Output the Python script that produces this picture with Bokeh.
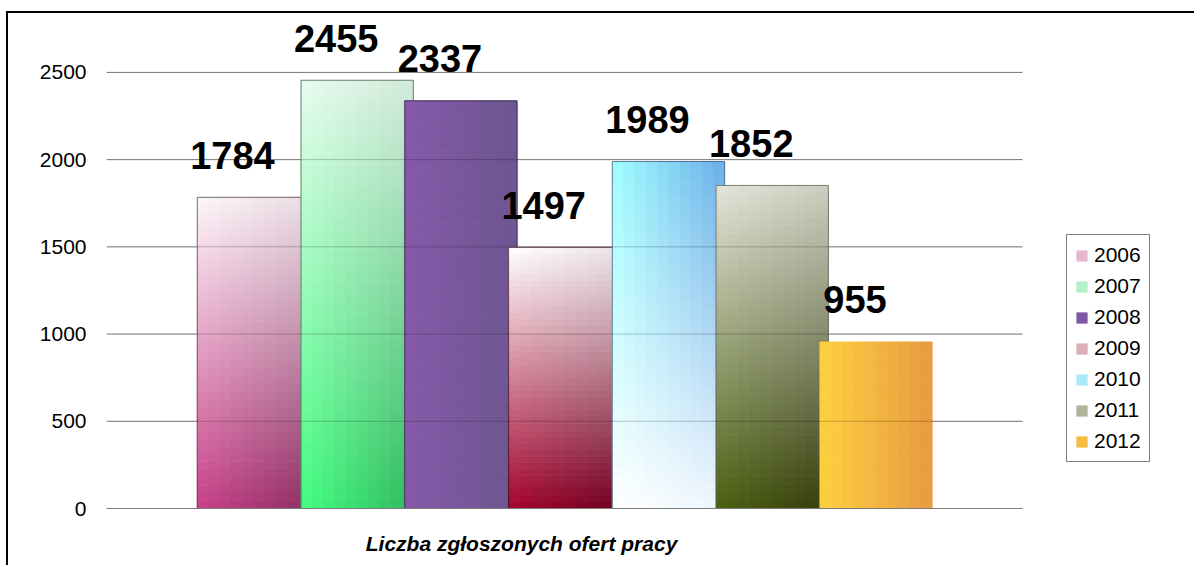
from bokeh.plotting import figure
from bokeh.layouts import column
from bokeh.models import (Range1d, FixedTicker, Legend, LegendItem,
                          ColumnDataSource)
from bokeh.core.properties import value
from bokeh.embed import file_html
from bokeh.resources import INLINE

# ---------------- data ----------------
CATEGORY = "Liczba zgłoszonych ofert pracy"
YEARS = ["2006", "2007", "2008", "2009", "2010", "2011", "2012"]
VALUES = [1784, 2455, 2337, 1497, 1989, 1852, 955]
Y_TICKS = [0, 500, 1000, 1500, 2000, 2500]

# ---------------- styles (gradient corners: TL, TR, BL, BR) ----------------
GRAD = [
    ("#fdf7fa", "#eadde4", "#c9418a", "#8e2e62"),
    ("#e8fcef", "#d2eadb", "#44ff82", "#2fb85d"),
    ("#8659a9", "#6c5690", "#8659a9", "#6c5690"),
    ("#ffffff", "#ece4e6", "#a6042f", "#6e0020"),
    ("#a2ffff", "#6aaee8", "#ffffff", "#eef6fe"),
    ("#e3e5db", "#cbcdbf", "#4c6010", "#343c0c"),
    ("#ffd040", "#e89a40", "#ffd040", "#e89a40"),
]
OUTLINE = ["#404040", "#405a48", "#2e2448", "#3a1020", "#3d5a78", "#5a6050", None]
BAR_W = 1.082
CAT_LABEL_X = 2.584
PLOT_X0, PLOT_X1 = -1.4156, 7.4118      # extent of the plotting area (grid lines)
NR, NC = 40, 10
FONT = "Liberation Sans"


def hx(c):
    return [int(c[i:i + 2], 16) for i in (1, 3, 5)]


def mix(a, b, t):
    return [a[k] + (b[k] - a[k]) * t for k in range(3)]


def tohex(c):
    return "#%02x%02x%02x" % tuple(int(round(max(0, min(255, v)))) for v in c)


p = figure(width=1186, height=552,
           x_range=Range1d(PLOT_X0, 9.0306), y_range=Range1d(0, 2832),
           output_backend="svg", toolbar_location=None,
           min_border_left=98, min_border_right=4,
           min_border_top=1, min_border_bottom=57)
p.outline_line_color = None
p.background_fill_color = "white"
p.border_fill_color = "white"
p.xgrid.visible = False
p.ygrid.visible = False

# axes
p.yaxis.ticker = FixedTicker(ticks=Y_TICKS)
p.yaxis.axis_line_color = None
p.yaxis.major_tick_line_color = None
p.yaxis.minor_tick_line_color = None
p.yaxis.major_tick_out = 0
p.yaxis.major_tick_in = 0
p.yaxis.major_label_standoff = 20
p.yaxis.major_label_text_font = FONT
p.yaxis.major_label_text_font_size = "21px"
p.yaxis.major_label_text_color = "black"

p.xaxis.ticker = FixedTicker(ticks=[CAT_LABEL_X])
p.xaxis.major_label_overrides = {CAT_LABEL_X: CATEGORY}
p.xaxis.bounds = (PLOT_X0, PLOT_X1)
p.xaxis.axis_line_color = "#7a7a7a"
p.xaxis.axis_line_width = 1.2
p.xaxis.major_tick_line_color = None
p.xaxis.minor_tick_line_color = None
p.xaxis.major_tick_out = 0
p.xaxis.major_tick_in = 0
p.xaxis.major_label_standoff = 23
p.xaxis.major_label_text_font = FONT
p.xaxis.major_label_text_font_style = "bold italic"
p.xaxis.major_label_text_font_size = "21px"
p.xaxis.major_label_text_color = "black"

# horizontal grid lines (limited to the plotting area)
n = len(Y_TICKS)
p.segment(x0=[PLOT_X0] * n, x1=[PLOT_X1] * n, y0=Y_TICKS, y1=Y_TICKS,
          line_color="#9a9a9a", line_width=1)

# bars as gradient cells
legend_items = []
for i, (yr, v) in enumerate(zip(YEARS, VALUES)):
    tl, tr, bl, br = [hx(c) for c in GRAD[i]]
    left, right, bottom, top, colors = [], [], [], [], []
    x0 = i - BAR_W / 2
    for r in range(NR):
        t = (r + 0.5) / NR
        for c in range(NC):
            s = (c + 0.5) / NC
            lo = mix(bl, br, s)
            hi = mix(tl, tr, s)
            colors.append(tohex(mix(lo, hi, t)))
            left.append(x0 + BAR_W * c / NC)
            right.append(x0 + BAR_W * (c + 1) / NC)
            bottom.append(v * r / NR)
            top.append(v * (r + 1) / NR)
    src = ColumnDataSource(dict(left=left, right=right, bottom=bottom, top=top, color=colors))
    rend = p.quad(left="left", right="right", bottom="bottom", top="top", source=src,
                  fill_color="color", line_color="color", line_width=0.8)
    legend_items.append(LegendItem(label=yr, renderers=[rend], index=28 * NC + 3))
    if OUTLINE[i]:
        p.quad(left=[x0], right=[x0 + BAR_W], bottom=[0], top=[v],
               fill_color=None, line_color=OUTLINE[i], line_alpha=0.75, line_width=1)

# grid lines seen through the translucent bars
p.segment(x0=[PLOT_X0] * n, x1=[PLOT_X1] * n, y0=Y_TICKS, y1=Y_TICKS,
          line_color="black", line_alpha=0.22, line_width=1)

# value labels
p.text(x=list(range(len(VALUES))), y=VALUES, text=[str(v) for v in VALUES],
       x_offset=-21, y_offset=-42, text_align="center", text_baseline="alphabetic",
       text_font=value(FONT), text_font_style="bold", text_font_size="38px",
       text_color="black")

# legend
legend = Legend(items=legend_items, location=(960, 46), padding=8, spacing=7,
                label_height=24, glyph_height=13, glyph_width=13, label_standoff=6,
                label_text_font=FONT, label_text_font_size="21px",
                label_text_color="black",
                border_line_color="black", border_line_width=1, margin=0,
                background_fill_color="white", background_fill_alpha=1)
p.add_layout(legend)

layout = column(p, styles={"border-left": "2px solid black",
                           "border-top": "2px solid black",
                           "margin-left": "6px", "margin-top": "11px"})

open("out.html", "w").write(file_html(layout, INLINE))
